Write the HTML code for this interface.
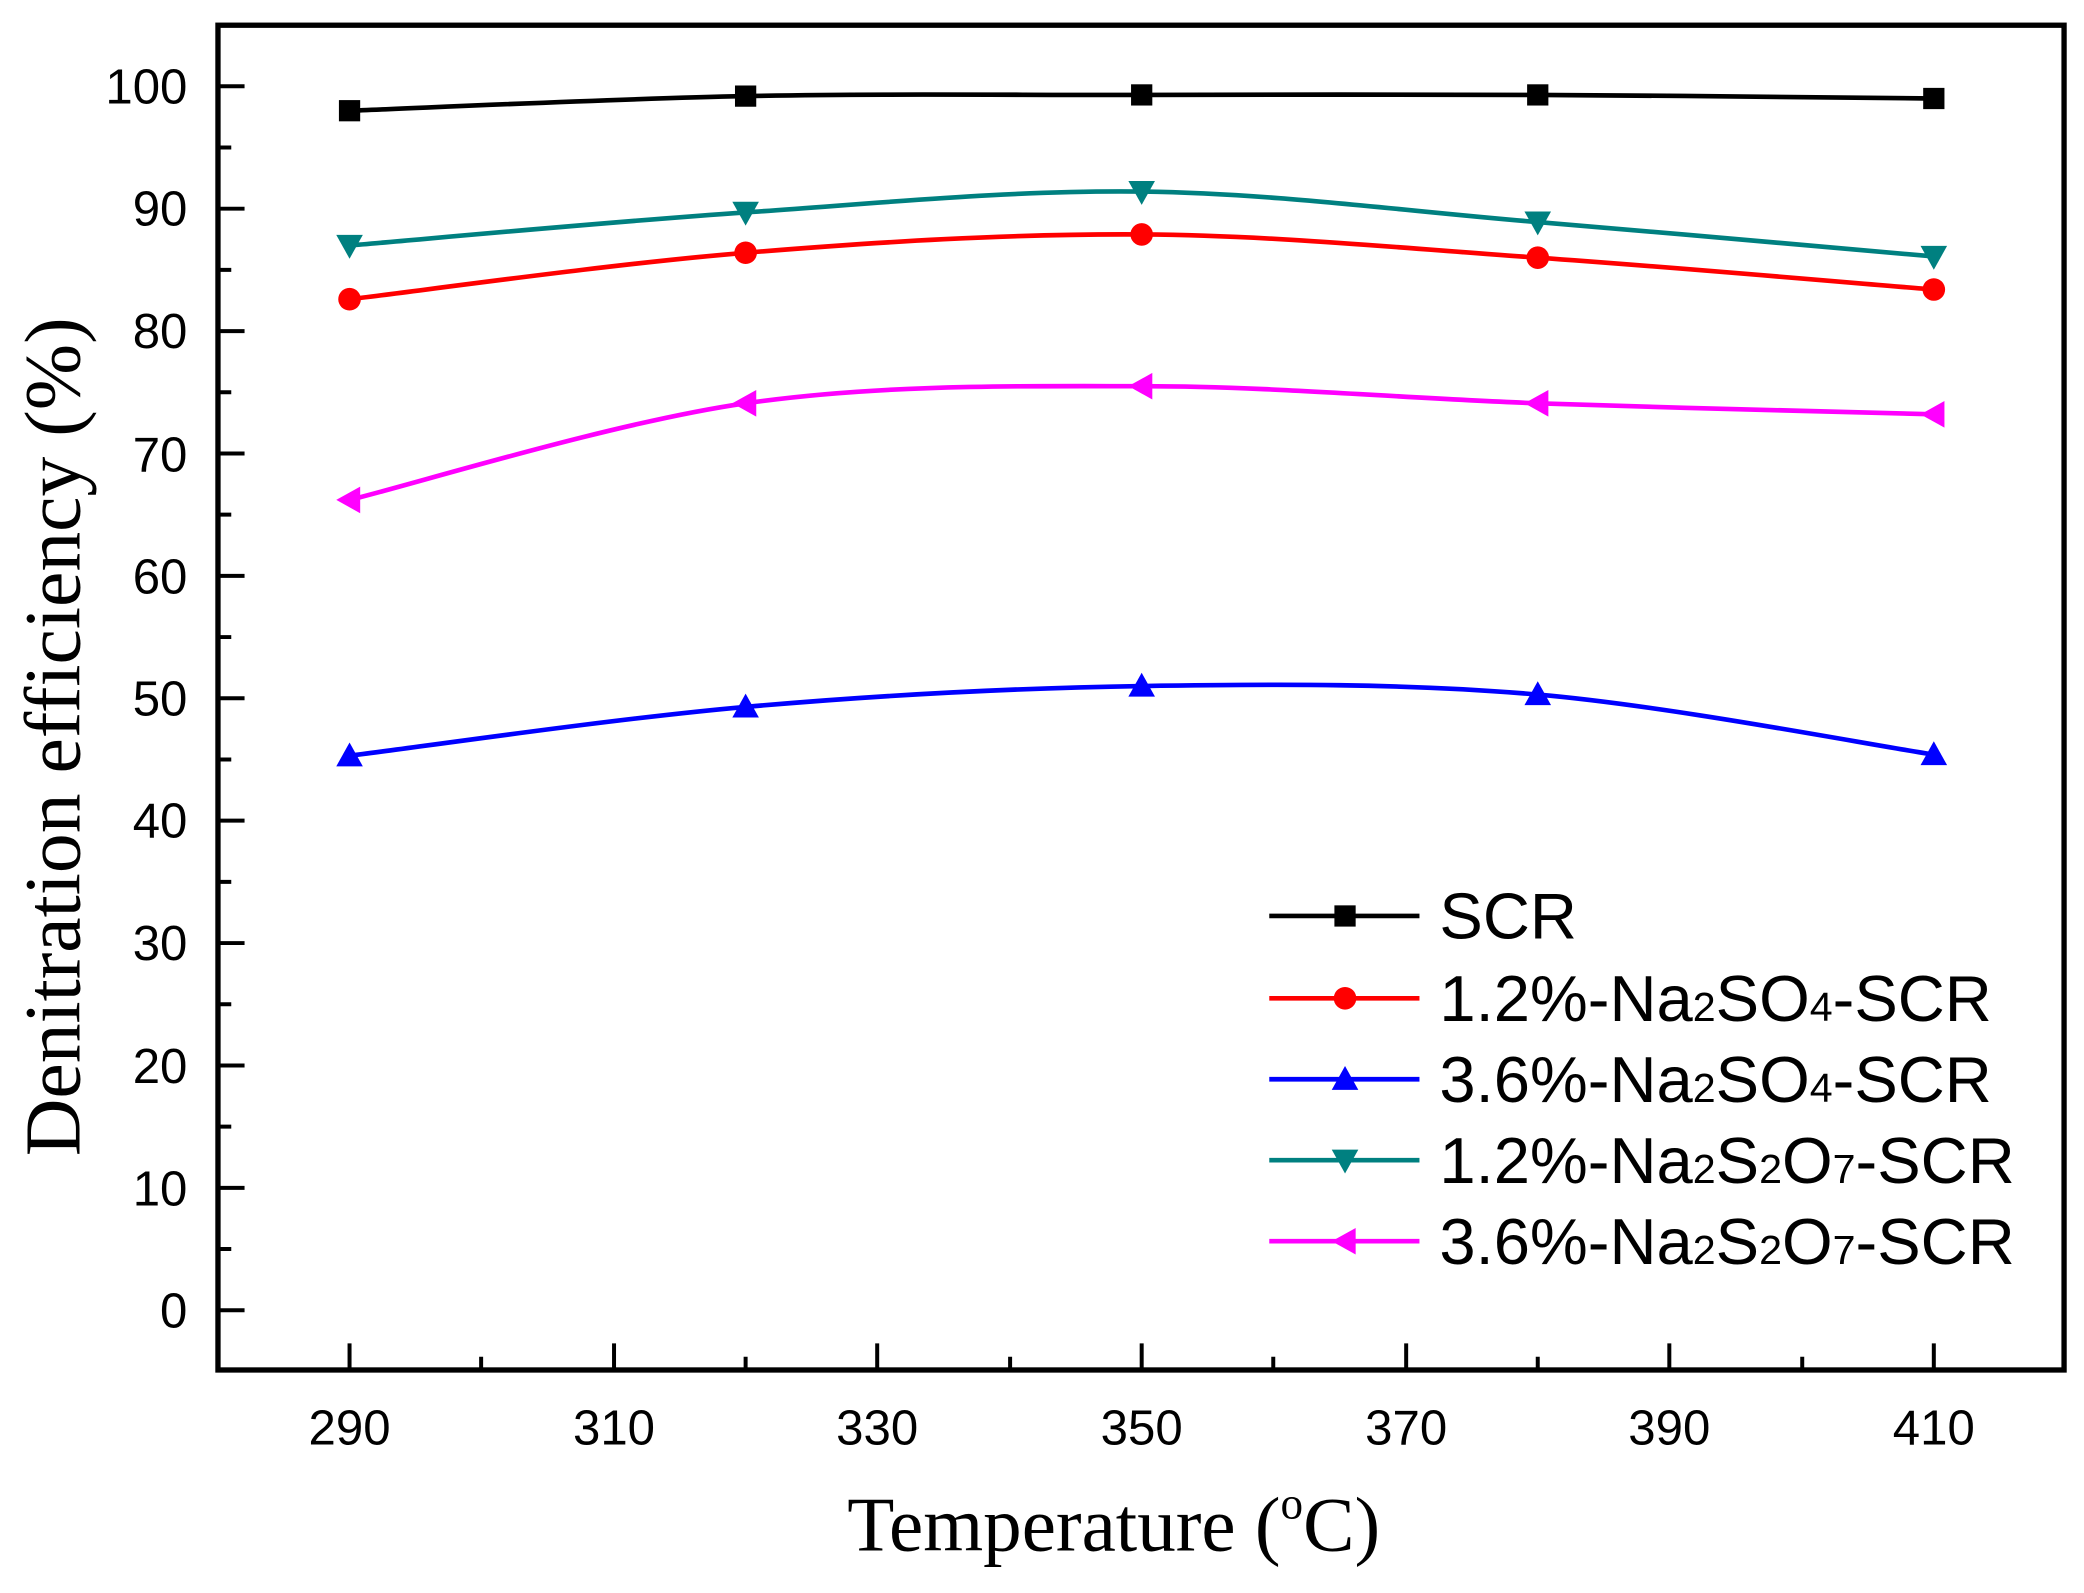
<!DOCTYPE html>
<html><head><meta charset="utf-8"><style>html,body{margin:0;padding:0;background:#fff}svg{display:block}</style></head>
<body>
<svg width="2084" height="1593" viewBox="0 0 1568 1200" preserveAspectRatio="none" xmlns="http://www.w3.org/2000/svg">
<rect width="1568" height="1200" fill="#fff"/>
<defs>
<rect id="sq" x="-8" y="-8" width="16" height="16" fill="#000"/>
<circle id="ci" r="8.5" fill="#ff0000"/>
<polygon id="tu" points="0,-10 10,8 -10,8" fill="#0000ff"/>
<polygon id="td" points="0,10 10,-8 -10,-8" fill="#008080"/>
<polygon id="tl" points="-10,0 8,-10 8,10" fill="#ff00ff"/>
</defs>
<g fill="none" stroke-width="3.5">
<path stroke="#000" d="M263,83.4 C312.7,81.57 461.7,74.38 561,72.4 C660.3,70.42 759.7,71.65 859,71.5 C958.3,71.35 1057.7,71.05 1157,71.5 C1256.3,71.95 1405.3,73.75 1455,74.2"/>
<path stroke="#ff0000" d="M263,225.4 C312.7,219.57 461.7,198.53 561,190.4 C660.3,182.27 759.7,175.98 859,176.6 C958.3,177.22 1057.7,187.18 1157,194.1 C1256.3,201.02 1405.3,214.1 1455,218.1"/>
<path stroke="#0000ff" d="M263,569.3 C312.7,563.17 461.7,541.25 561,532.5 C660.3,523.75 759.7,518.35 859,516.8 C958.3,515.25 1057.7,514.6 1157,523.2 C1256.3,531.8 1405.3,560.87 1455,568.4"/>
<path stroke="#008080" d="M263,184.9 C312.7,180.75 461.7,166.77 561,160 C660.3,153.23 759.7,143.08 859,144.3 C958.3,145.52 1057.7,159.15 1157,167.3 C1256.3,175.45 1405.3,188.88 1455,193.2"/>
<path stroke="#ff00ff" d="M263,376.6 C312.7,364.47 461.7,318.08 561,303.8 C660.3,289.52 759.7,290.9 859,290.9 C958.3,290.9 1057.7,300.27 1157,303.8 C1256.3,307.33 1405.3,310.72 1455,312.1"/>
</g>
<g>
<use href="#sq" x="263" y="83.4"/><use href="#sq" x="561" y="72.4"/><use href="#sq" x="859" y="71.5"/><use href="#sq" x="1157" y="71.5"/><use href="#sq" x="1455" y="74.2"/>
<use href="#ci" x="263" y="225.4"/><use href="#ci" x="561" y="190.4"/><use href="#ci" x="859" y="176.6"/><use href="#ci" x="1157" y="194.1"/><use href="#ci" x="1455" y="218.1"/>
<use href="#tu" x="263" y="569.3"/><use href="#tu" x="561" y="532.5"/><use href="#tu" x="859" y="516.8"/><use href="#tu" x="1157" y="523.2"/><use href="#tu" x="1455" y="568.4"/>
<use href="#td" x="263" y="184.9"/><use href="#td" x="561" y="160"/><use href="#td" x="859" y="144.3"/><use href="#td" x="1157" y="167.3"/><use href="#td" x="1455" y="193.2"/>
<use href="#tl" x="263" y="376.6"/><use href="#tl" x="561" y="303.8"/><use href="#tl" x="859" y="290.9"/><use href="#tl" x="1157" y="303.8"/><use href="#tl" x="1455" y="312.1"/>
</g>
<rect x="164" y="19" width="1389" height="1013" fill="none" stroke="#000" stroke-width="4"/>
<g stroke="#000" stroke-width="3">
<path d="M164,65h20M164,157.2h20M164,249.4h20M164,341.6h20M164,433.8h20M164,526h20M164,618.2h20M164,710.4h20M164,802.6h20M164,894.8h20M164,987h20"/>
<path d="M164,111.1h10M164,203.3h10M164,295.5h10M164,387.7h10M164,479.9h10M164,572.1h10M164,664.3h10M164,756.5h10M164,848.7h10M164,940.9h10M164,1032h10"/>
<path d="M263,1032v-20M462,1032v-20M660,1032v-20M859,1032v-20M1058,1032v-20M1256,1032v-20M1455,1032v-20"/>
<path d="M362,1032v-10M561,1032v-10M760,1032v-10M958,1032v-10M1157,1032v-10M1356,1032v-10"/>
</g>
<g font-family="Liberation Sans, Arial, sans-serif" font-size="37" fill="#000" text-anchor="end">
<text x="141" y="78">100</text><text x="141" y="170">90</text><text x="141" y="262">80</text><text x="141" y="355">70</text><text x="141" y="447">60</text><text x="141" y="539">50</text><text x="141" y="631">40</text><text x="141" y="723">30</text><text x="141" y="816">20</text><text x="141" y="908">10</text><text x="141" y="1000">0</text>
</g>
<g font-family="Liberation Sans, Arial, sans-serif" font-size="37" fill="#000" text-anchor="middle">
<text x="263" y="1088">290</text><text x="462" y="1088">310</text><text x="660" y="1088">330</text><text x="859" y="1088">350</text><text x="1058" y="1088">370</text><text x="1256" y="1088">390</text><text x="1455" y="1088">410</text>
</g>
<text x="838" y="1168" font-family="Liberation Serif, serif" font-size="58" text-anchor="middle">Temperature (<tspan font-size="34" dy="-24">o</tspan><tspan dy="24">C)</tspan></text>
<text transform="translate(60,555) rotate(-90)" font-family="Liberation Serif, serif" font-size="60" text-anchor="middle">Denitration efficiency (%)</text>
<g stroke-width="3.5">
<line x1="955" y1="690" x2="1068" y2="690" stroke="#000"/><use href="#sq" x="1012" y="690"/>
<line x1="955" y1="752" x2="1068" y2="752" stroke="#ff0000"/><use href="#ci" x="1012" y="752"/>
<line x1="955" y1="813" x2="1068" y2="813" stroke="#0000ff"/><use href="#tu" x="1012" y="813"/>
<line x1="955" y1="874" x2="1068" y2="874" stroke="#008080"/><use href="#td" x="1012" y="874"/>
<line x1="955" y1="935" x2="1068" y2="935" stroke="#ff00ff"/><use href="#tl" x="1012" y="935"/>
</g>
<g font-family="Liberation Sans, Arial, sans-serif" font-size="49" fill="#000">
<text x="1083" y="707">SCR</text>
<text x="1083" y="769">1.2%-Na<tspan font-size="31">2</tspan>SO<tspan font-size="31">4</tspan>-SCR</text>
<text x="1083" y="830">3.6%-Na<tspan font-size="31">2</tspan>SO<tspan font-size="31">4</tspan>-SCR</text>
<text x="1083" y="891">1.2%-Na<tspan font-size="31">2</tspan>S<tspan font-size="31">2</tspan>O<tspan font-size="31">7</tspan>-SCR</text>
<text x="1083" y="952">3.6%-Na<tspan font-size="31">2</tspan>S<tspan font-size="31">2</tspan>O<tspan font-size="31">7</tspan>-SCR</text>
</g>
</svg>
</body></html>
